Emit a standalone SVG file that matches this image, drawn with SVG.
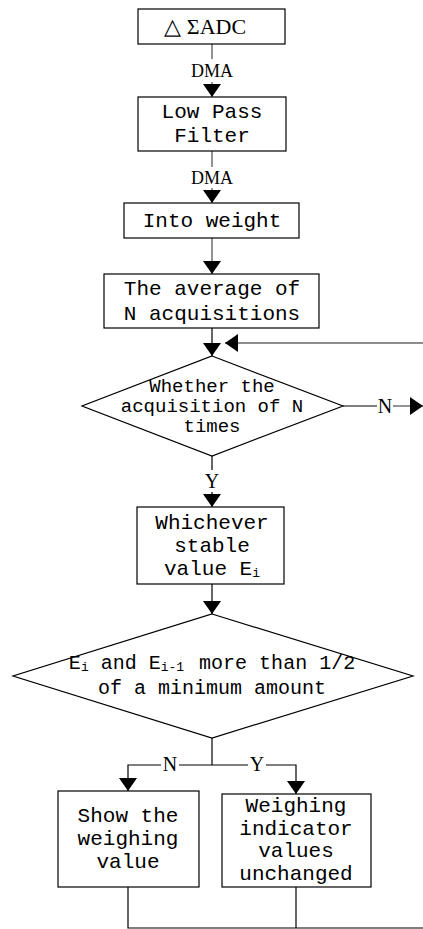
<svg xmlns="http://www.w3.org/2000/svg" width="423" height="929" viewBox="0 0 423 929">
<style>
.box{fill:#fff;stroke:#000;stroke-width:1.2}
.t{font-family:"Liberation Mono",monospace;font-size:21px;fill:#000;text-anchor:middle}
.td{font-family:"Liberation Mono",monospace;font-size:19px;fill:#000;text-anchor:middle}
.t2{font-family:"Liberation Mono",monospace;font-size:20px;fill:#000;text-anchor:middle}
.lab{font-family:"Liberation Serif",serif;font-size:20px;fill:#000;text-anchor:middle}
.dma{font-family:"Liberation Serif",serif;font-size:18px;fill:#000;text-anchor:middle}
.sub{font-size:13px}
.ln{fill:none;stroke:#000;stroke-width:1.2}
.lg{fill:none;stroke:#666;stroke-width:1.4}
.bg{fill:#fff}
</style>
<defs>
<marker id="ah" viewBox="0 0 13 18" refX="13" refY="9" markerWidth="13" markerHeight="18" markerUnits="userSpaceOnUse" orient="auto">
<path d="M0,0 L13,9 L0,18 z" fill="#000"/>
</marker>
</defs>
<g id="connectors">
<path class="lg" d="M212,44 V97" marker-end="url(#ah)"/>
<path class="lg" d="M212,151 V203" marker-end="url(#ah)"/>
<path class="lg" d="M212,238 V274" marker-end="url(#ah)"/>
<path class="ln" d="M212,328 V356" marker-end="url(#ah)"/>
<path class="lg" d="M423,343 H225" marker-end="url(#ah)"/>
<path class="ln" d="M343,406 H377"/>
<path class="lg" d="M393,406 H423" marker-end="url(#ah)"/>
<path class="ln" d="M212,456 V507" marker-end="url(#ah)"/>
<path class="ln" d="M212,584 V614" marker-end="url(#ah)"/>
<path class="ln" d="M212,738 V765"/>
<path class="ln" d="M212,765 H128 V791" marker-end="url(#ah)"/>
<path class="ln" d="M212,765 H296 V794" marker-end="url(#ah)"/>
<path class="ln" d="M128,887 V928 H423"/>
<path class="ln" d="M296,887 V928"/>
<rect class="bg" x="190" y="59" width="44" height="23"/>
<text class="dma" x="212" y="77">DMA</text>
<rect class="bg" x="190" y="167" width="44" height="21"/>
<text class="dma" x="212" y="184">DMA</text>
<rect class="bg" x="377" y="395" width="16" height="20"/>
<text class="lab" x="385" y="413">N</text>
<rect class="bg" x="203" y="470" width="18" height="22"/>
<text class="lab" x="212" y="488">Y</text>
<rect class="bg" x="161" y="755" width="18" height="19"/>
<text class="lab" x="170" y="771">N</text>
<rect class="bg" x="248" y="755" width="18" height="19"/>
<text class="lab" x="257" y="771">Y</text>
</g>
<g id="adc">
<rect class="box" x="138" y="9" width="147" height="35"/>
<text class="lab" x="205" y="34" style="font-size:22px">△<tspan dx="6">ΣADC</tspan></text>
</g>
<g id="lpf">
<rect class="box" x="138" y="97" width="148" height="54"/>
<text class="t" x="212" y="118">Low Pass</text>
<text class="t" x="212" y="142">Filter</text>
</g>
<g id="weight">
<rect class="box" x="124" y="203" width="175" height="35"/>
<text class="t" x="212" y="227">Into weight</text>
</g>
<g id="average">
<rect class="box" x="104" y="274" width="215" height="54"/>
<text class="t" x="212" y="295">The average of</text>
<text class="t" x="212" y="320">N acquisitions</text>
</g>
<g id="decision1">
<polygon class="box" points="212,356 343,406 212,456 82,406"/>
<text class="td" x="212" y="392">Whether the</text>
<text class="td" x="212" y="412">acquisition of N</text>
<text class="td" x="212" y="432">times</text>
</g>
<g id="stable">
<rect class="box" x="137" y="507" width="147" height="77"/>
<text class="t" x="212" y="529">Whichever</text>
<text class="t" x="212" y="552">stable</text>
<text class="t" x="212" y="575">value E<tspan class="sub" dy="2">i</tspan></text>
</g>
<g id="decision2">
<polygon class="box" points="212,614 413,676 212,738 13,676"/>
<text class="t2" x="212" y="669">E<tspan class="sub" dy="2">i</tspan><tspan dy="-2"> and E</tspan><tspan class="sub" dy="2">i-1</tspan><tspan dy="-2" dx="3"> more than 1/2</tspan></text>
<text class="t2" x="212" y="694">of a minimum amount</text>
</g>
<g id="show">
<rect class="box" x="58" y="791" width="141" height="96"/>
<text class="t" x="128" y="822">Show the</text>
<text class="t" x="128" y="845">weighing</text>
<text class="t" x="128" y="868">value</text>
</g>
<g id="unchanged">
<rect class="box" x="222" y="794" width="149" height="93"/>
<text class="t" x="296" y="812">Weighing</text>
<text class="t" x="296" y="835">indicator</text>
<text class="t" x="296" y="857">values</text>
<text class="t" x="296" y="880">unchanged</text>
</g>
</svg>
